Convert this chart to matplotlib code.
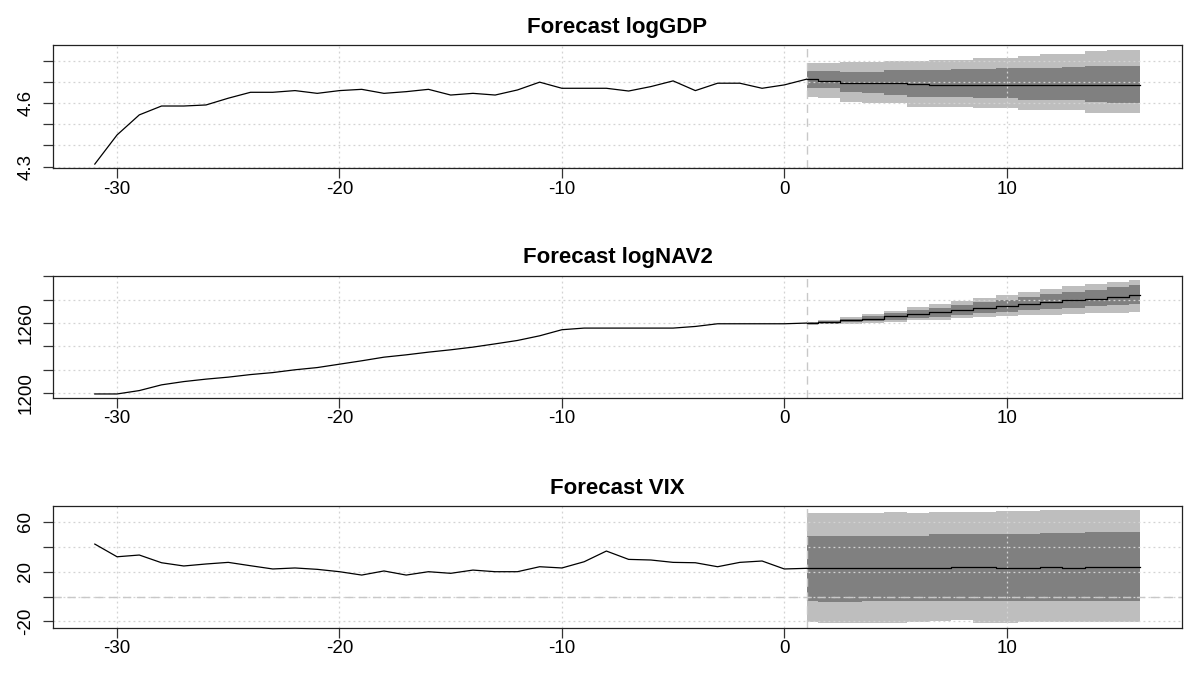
import numpy as np
import matplotlib
matplotlib.use("Agg")
import matplotlib.pyplot as plt

plt.rcParams['font.family'] = ['Liberation Sans', 'DejaVu Sans']

# history runs from -31 to 0, forecast steps 1..16
hist_x = np.arange(-31, 1)
fc_x = np.arange(1, 17)

gdp_hist = [4.312, 4.45, 4.545, 4.587, 4.587, 4.592, 4.624, 4.652, 4.652, 4.66,
            4.647, 4.66, 4.666, 4.647, 4.655, 4.666, 4.639, 4.647, 4.639, 4.663,
            4.70, 4.671, 4.671, 4.671, 4.658, 4.679, 4.706, 4.66, 4.695, 4.695,
            4.671, 4.687]
gdp_fc = [4.714, 4.706, 4.698, 4.695, 4.695, 4.693, 4.685, 4.685, 4.685, 4.685,
          4.685, 4.685, 4.685, 4.685, 4.685, 4.685]
gdp_hi95 = [4.790, 4.790, 4.797, 4.797, 4.800, 4.800, 4.805, 4.805, 4.816, 4.816,
            4.824, 4.834, 4.834, 4.848, 4.853, 4.853]
gdp_hi68 = [4.753, 4.752, 4.750, 4.750, 4.758, 4.758, 4.758, 4.760, 4.763, 4.765,
            4.769, 4.769, 4.770, 4.778, 4.778, 4.778]
gdp_lo68 = [4.671, 4.671, 4.655, 4.647, 4.639, 4.631, 4.631, 4.631, 4.624, 4.624,
            4.616, 4.616, 4.616, 4.608, 4.600, 4.600]
gdp_lo95 = [4.631, 4.624, 4.605, 4.600, 4.600, 4.584, 4.584, 4.584, 4.576, 4.576,
            4.568, 4.568, 4.568, 4.553, 4.553, 4.553]

nav_hist = [1199.3, 1199.3, 1202.2, 1207.1, 1209.9, 1212.0, 1213.7, 1215.9, 1217.6, 1220.0,
            1221.9, 1224.8, 1227.7, 1230.8, 1232.8, 1235.1, 1237.1, 1239.4, 1242.2, 1245.1,
            1249.1, 1254.3, 1255.7, 1255.7, 1255.7, 1255.7, 1255.7, 1257.1, 1259.4, 1259.4,
            1259.4, 1259.4]
nav_fc = [1260.0, 1260.6, 1262.3, 1263.7, 1265.7, 1267.7, 1269.2, 1270.9, 1272.9, 1274.3,
          1276.3, 1277.7, 1279.5, 1280.9, 1282.3, 1283.7]
nav_hi95 = [1260.9, 1262.5, 1265.0, 1267.5, 1270.5, 1273.5, 1276.0, 1278.5, 1281.5, 1284.0,
            1286.5, 1289.0, 1291.5, 1293.5, 1295.5, 1297.2]
nav_hi68 = [1260.5, 1261.8, 1263.8, 1266.0, 1268.5, 1271.0, 1273.0, 1275.3, 1277.8, 1280.0,
            1282.3, 1284.5, 1286.5, 1288.5, 1290.5, 1292.3]
nav_lo68 = [1259.5, 1259.6, 1260.5, 1261.5, 1263.0, 1264.5, 1265.6, 1266.9, 1268.4, 1269.4,
            1270.9, 1272.0, 1273.3, 1274.3, 1275.3, 1276.3]
nav_lo95 = [1258.6, 1258.9, 1259.5, 1260.3, 1261.3, 1262.3, 1263.0, 1264.0, 1265.2, 1265.9,
            1266.6, 1267.3, 1268.0, 1268.7, 1269.0, 1269.4]

vix_hist = [42.2, 32.0, 33.4, 27.2, 24.6, 26.2, 27.5, 24.8, 22.2, 23.0,
            21.9, 20.0, 17.3, 20.6, 17.3, 20.0, 18.7, 21.3, 20.0, 20.0,
            24.0, 23.0, 28.0, 36.6, 29.9, 29.4, 27.5, 27.2, 24.0, 27.5,
            28.6, 22.2]
vix_fc = [22.7, 23.2, 23.2, 23.2, 23.2, 23.2, 23.2, 24.0, 24.0, 23.2,
          23.2, 24.0, 23.2, 24.0, 24.0, 24.0]
vix_hi95 = [66.9, 66.9, 66.9, 66.9, 67.7, 66.9, 67.7, 67.7, 68.2, 68.7,
            68.7, 69.5, 69.5, 69.5, 69.5, 69.5]
vix_hi68 = [48.9, 48.9, 48.9, 48.9, 48.9, 48.9, 50.3, 50.3, 50.3, 50.3,
            50.3, 51.3, 51.3, 51.6, 51.6, 51.6]
vix_lo68 = [-3.5, -4.6, -4.6, -3.5, -3.5, -3.5, -3.5, -3.5, -3.5, -3.5,
            -3.5, -3.5, -3.5, -3.5, -3.5, -3.5]
vix_lo95 = [-20.2, -21.0, -21.0, -21.5, -21.5, -20.6, -19.6, -18.8, -21.5, -21.5,
            -20.6, -20.6, -20.6, -20.6, -20.6, -20.6]

titles = ["Forecast logGDP", "Forecast logNAV2", "Forecast VIX"]
ylims = [(4.2934, 4.876), (1196.1, 1300.3), (-25.0, 72.8)]
yticks = [[4.3, 4.4, 4.5, 4.6, 4.7, 4.8],
          [1200, 1220, 1240, 1260, 1280, 1300],
          [-20, 0, 20, 40, 60]]
ylabels = [["4.3", "", "", "4.6", "", ""],
           ["1200", "", "", "1260", "", ""],
           ["-20", "", "20", "", "60"]]
xticks = [-30, -20, -10, 0, 10]

series = [
    (gdp_hist, gdp_fc, gdp_lo95, gdp_hi95, gdp_lo68, gdp_hi68),
    (nav_hist, nav_fc, nav_lo95, nav_hi95, nav_lo68, nav_hi68),
    (vix_hist, vix_fc, vix_lo95, vix_hi95, vix_lo68, vix_hi68),
]

W, H = 1197, 688
fig = plt.figure(figsize=(W / 100, H / 100), dpi=100)
boxes = [(45, 168), (276, 397.7), (506, 627.7)]

for i, (top, bot) in enumerate(boxes):
    ax = fig.add_axes([53 / W, 1 - bot / H, (1182 - 53) / W, (bot - top) / H])
    hist, fc, lo95, hi95, lo68, hi68 = series[i]

    ax.fill_between(fc_x, lo95, hi95, step='mid', color='#BEBEBE', lw=0, zorder=1)
    ax.fill_between(fc_x, lo68, hi68, step='mid', color='#808080', lw=0, zorder=1.5)

    for xt in xticks:
        ax.axvline(xt, color='#D3D3D3', ls=(0, (1.5, 2.5)), lw=0.9, zorder=2)
    for yt in yticks[i]:
        ax.axhline(yt, color='#D3D3D3', ls=(0, (1.5, 2.5)), lw=0.9, zorder=2)

    ax.axvline(1, color='#C8C8C8', ls=(0, (6, 4)), lw=1.0, zorder=2.5)
    if i == 2:
        ax.axhline(0, color='#C8C8C8', ls=(0, (6, 4)), lw=1.0, zorder=2.5)

    ax.plot(np.r_[hist_x, 1], np.r_[hist, fc[0]], color='black', lw=0.9, zorder=3)
    ax.plot(fc_x, fc, color='black', lw=0.9, drawstyle='steps-mid', zorder=3)

    ax.set_xlim(-32.88, 17.88)
    ax.set_ylim(*ylims[i])
    ax.set_xticks(xticks)
    ax.set_xticklabels([str(v) for v in xticks])
    ax.set_yticks(yticks[i])
    ax.set_yticklabels(ylabels[i], rotation=90, va='center')
    ax.tick_params(axis='both', length=7.5, width=0.9, labelsize=13.5, color='#333333')
    ax.tick_params(axis='x', pad=1.5)
    ax.tick_params(axis='y', pad=6)
    for sp in ax.spines.values():
        sp.set_linewidth(0.9)
        sp.set_color('#222222')
    ax.set_title(titles[i], fontsize=16, fontweight='bold', pad=9)

fig.savefig("out.png", dpi=100)
